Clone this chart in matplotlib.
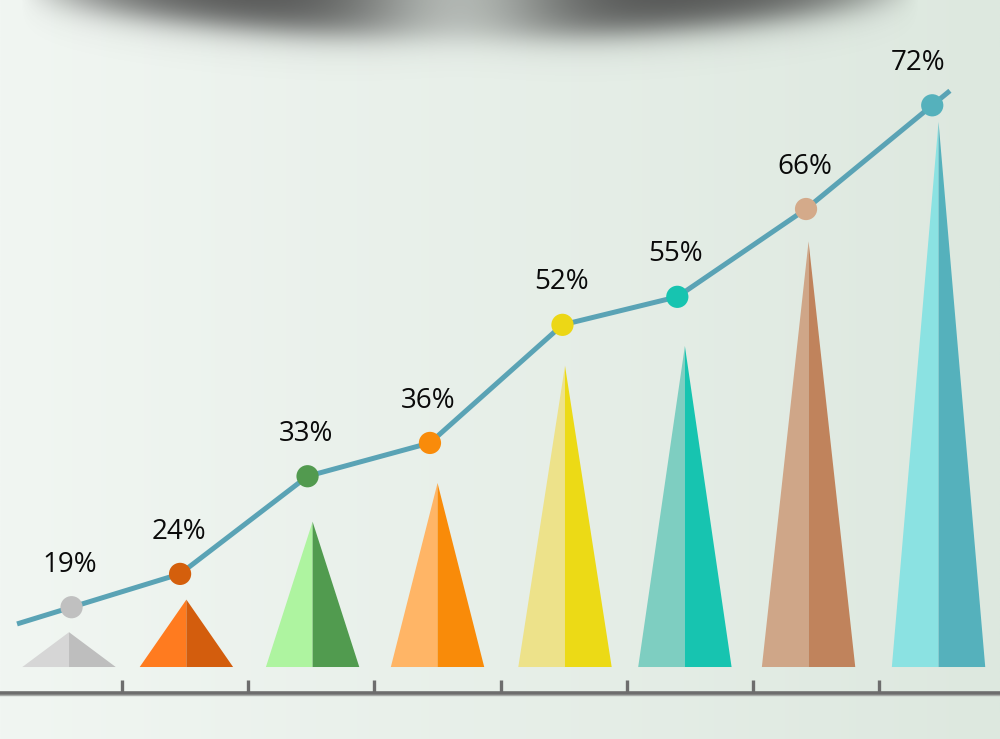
import numpy as np
import matplotlib
matplotlib.use("Agg")
from matplotlib import pyplot as plt
from matplotlib.patches import Polygon

# data
labels = ["19%", "24%", "33%", "36%", "52%", "55%", "66%", "72%"]
line_values = [7.9, 12.3, 25.2, 29.6, 45.2, 48.9, 60.5, 74.2]
pyramid_heights = [4.6, 8.9, 19.2, 24.3, 39.8, 42.4, 56.2, 72.0]

light_colors = ["#d6d6d6", "#ff7b1f", "#aef4a0", "#ffb566",
                "#ede28a", "#7ecec1", "#cfa688", "#8be2e2"]
dark_colors = ["#bebebe", "#d35d0d", "#519b4f", "#f98b09",
               "#ecda16", "#17c4b0", "#c0835c", "#55b1bc"]
dot_colors = ["#c0c0c0", "#d45f0c", "#529a4f", "#f98b0a",
              "#ecd716", "#17c4b0", "#d4aa8a", "#55b1bc"]

# layout (category positions)
pyr_x = [0.58, 1.51, 2.51, 3.50, 4.51, 5.46, 6.44, 7.47]
dot_x = [0.60, 1.46, 2.47, 3.44, 4.49, 5.40, 6.42, 7.42]
half_w = 0.37

fig = plt.figure(figsize=(10, 7.39), dpi=100)
ax = fig.add_axes([0, 0, 1, 1])
xlim = (0.033, 7.957)
ylim = (-9.51, 88.11)

# background gradient
xs = np.linspace(0, 1, 400)
left = np.array([241, 246, 242]) / 255
right = np.array([221, 232, 223]) / 255
grad = left[None, :] * (1 - xs[:, None]) + right[None, :] * xs[:, None]
bg = np.tile(grad[None, :, :], (10, 1, 1))
ax.imshow(bg, extent=(xlim[0], xlim[1], ylim[0], ylim[1]),
          aspect="auto", zorder=0, interpolation="bilinear")

# soft shadow at the top
W, H = 500, 60
px = np.linspace(0, 1000, W)
py = np.linspace(0, 120, H)
PX, PY = np.meshgrid(px, py)
edge = 38 * (1 - ((PX - 470) / 440) ** 2)
a = 1 / (1 + np.exp((PY - edge) / 9))
a *= np.clip(1 - ((PX - 470) / 450) ** 6, 0, 1)
a *= 1 - 0.62 * np.exp(-((PX - 460) / 105) ** 2)
sh = np.zeros((H, W, 4))
sh[..., 0:3] = 0.25
sh[..., 3] = np.clip(a * 0.88, 0, 1)
ax.imshow(sh, extent=(xlim[0], xlim[1], 88.11 - 120 / 7.57, 88.11),
          aspect="auto", zorder=1, interpolation="bilinear")

# pyramids
for i in range(len(labels)):
    cx, h = pyr_x[i], pyramid_heights[i]
    ax.add_patch(Polygon([(cx - half_w, 0), (cx, h), (cx, 0)],
                         closed=True, fc=light_colors[i], ec="none", zorder=2))
    ax.add_patch(Polygon([(cx, 0), (cx, h), (cx + half_w, 0)],
                         closed=True, fc=dark_colors[i], ec="none", zorder=2))

# line with extensions at both ends
s0 = (line_values[1] - line_values[0]) / (dot_x[1] - dot_x[0])
s1 = (line_values[-1] - line_values[-2]) / (dot_x[-1] - dot_x[-2])
lx = [0.168] + dot_x + [7.56]
ly = [line_values[0] - s0 * (dot_x[0] - 0.168)] + line_values + \
     [line_values[-1] + s1 * (7.56 - dot_x[-1])]
ax.plot(lx, ly, color="#5aa3b5", lw=3.6, zorder=3, solid_capstyle="butt")
ax.scatter(dot_x, line_values, s=16 ** 2, c=dot_colors, zorder=4,
           edgecolors="none")

for i, lab in enumerate(labels):
    dx = -10 if i == len(labels) - 1 else -1
    ax.annotate(lab, (dot_x[i], line_values[i]), xytext=(dx, 30.5),
                textcoords="offset points", ha="center", va="center",
                fontsize=20, family=["Open Sans", "DejaVu Sans"],
                color="#0a0a0a", zorder=5)

# bottom axis
ax.axhline(-3.43, color="#6d6d6d", lw=2.6, zorder=2)
ax.axhline(-3.75, color="#a8aba8", lw=1.0, zorder=1.9)
for t in range(1, 8):
    ax.plot([t, t], [-3.43, -1.7], color="#6d6d6d", lw=2.4, zorder=2,
            solid_capstyle="butt")

ax.set_xlim(*xlim)
ax.set_ylim(*ylim)
ax.axis("off")
fig.savefig("out.png", dpi=100)
